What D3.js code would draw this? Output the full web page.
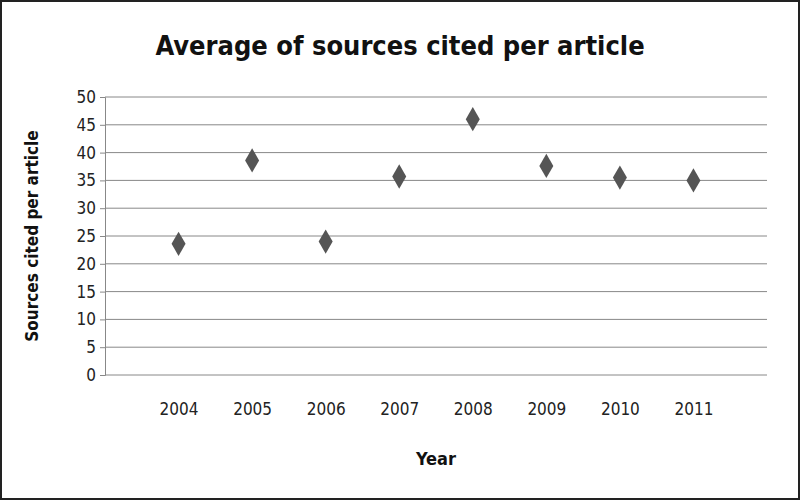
<!DOCTYPE html>
<html>
<head>
<meta charset="utf-8">
<script src="https://d3js.org/d3.v7.min.js"></script>
<style>
  body { margin: 0; background: #fff; }
  text { font-family: "DejaVu Sans Condensed", "DejaVu Sans", sans-serif; }
</style>
</head>
<body>
<script>
var years = [2004, 2005, 2006, 2007, 2008, 2009, 2010, 2011];
var sources = [23.6, 38.6, 24.0, 35.7, 46.0, 37.6, 35.5, 35.0];
var yTicks = [0, 5, 10, 15, 20, 25, 30, 35, 40, 45, 50];

(function() {
var W = 800, H = 500;
var svg = d3.select("body").append("svg").attr("width", W).attr("height", H);

svg.append("rect").attr("x", 1).attr("y", 1).attr("width", W - 2).attr("height", H - 2)
  .attr("fill", "#fff").attr("stroke", "#222").attr("stroke-width", 2);

var pLeft = 105, pRight = 767, pTop = 97, pBottom = 375;
var x = d3.scaleLinear().domain([2003, 2012]).range([pLeft, pRight]);
var y = d3.scaleLinear().domain([0, 50]).range([pBottom, pTop]);

// gridlines
svg.append("g").selectAll("line").data(yTicks).enter().append("line")
  .attr("x1", pLeft).attr("x2", pRight)
  .attr("y1", function(d) { return y(d); }).attr("y2", function(d) { return y(d); })
  .attr("stroke", "#888").attr("stroke-width", 1);

var yAxis = svg.append("g").attr("transform", "translate(" + pLeft + ",0)")
  .call(d3.axisLeft(y).tickValues(yTicks).tickSize(5).tickPadding(4));
yAxis.select(".domain").attr("stroke", "#888");
yAxis.selectAll(".tick line").attr("stroke", "#888");
yAxis.selectAll("text").attr("font-size", 17).attr("fill", "#222");

var xAxis = svg.append("g").attr("transform", "translate(0," + pBottom + ")")
  .call(d3.axisBottom(x).tickValues(years).tickFormat(d3.format("d")).tickSize(0).tickPadding(28));
xAxis.select(".domain").remove();
xAxis.selectAll("text").attr("font-size", 17).attr("fill", "#222");

svg.append("g").selectAll("path").data(years).enter().append("path")
  .attr("d", d3.symbol().type(d3.symbolDiamond).size(170))
  .attr("transform", function(d, i) { return "translate(" + x(d) + "," + y(sources[i]) + ")"; })
  .attr("fill", "#555");

svg.append("text").attr("x", 400).attr("y", 55).attr("text-anchor", "middle")
  .attr("font-size", 27).attr("font-weight", "bold").attr("fill", "#111")
  .text("Average of sources cited per article");

svg.append("text").attr("x", 436).attr("y", 465).attr("text-anchor", "middle")
  .attr("font-size", 18).attr("font-weight", "bold").attr("fill", "#111").text("Year");

svg.append("text").attr("transform", "translate(38,236) rotate(-90)").attr("text-anchor", "middle")
  .attr("font-size", 17).attr("font-weight", "bold").attr("fill", "#111")
  .text("Sources cited per article");
})();
</script>
</body>
</html>
